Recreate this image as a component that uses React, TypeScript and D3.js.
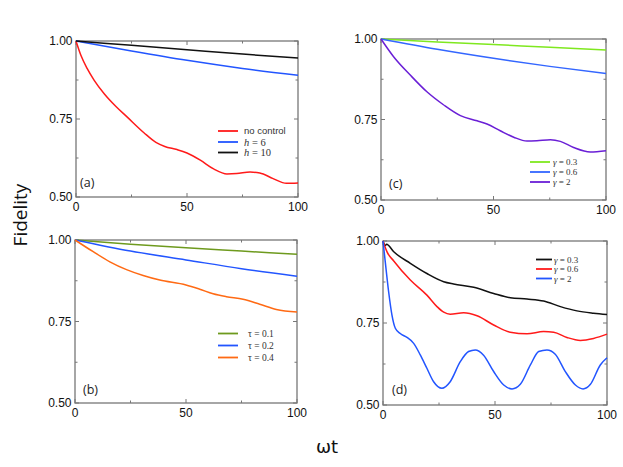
import React from "react";
import * as d3 from "d3";

type Pt = [number, number];

// Panel (a)
const aNoControl: Pt[] = [[0,1],[2.2,0.954],[5,0.912],[8.2,0.874],[12.7,0.831],[18,0.79],[23.1,0.756],[30.6,0.706],[36,0.675],[40,0.662],[45.5,0.652],[50,0.641],[56,0.618],[62,0.59],[68,0.574],[72.4,0.575],[78.4,0.58],[82.8,0.577],[88.8,0.559],[94.8,0.544],[100,0.545]];
const aH6: Pt[] = [[0,1],[25,0.968],[50,0.938],[75,0.912],[100,0.89]];
const aH10: Pt[] = [[0,1],[25,0.986],[50,0.972],[75,0.958],[100,0.9455]];

// Panel (b)
const bTau01: Pt[] = [[0,1],[25,0.987],[50,0.976],[75,0.966],[100,0.956]];
const bTau02: Pt[] = [[0,1],[25,0.966],[50,0.939],[75,0.912],[100,0.889]];
const bTau04: Pt[] = [[0,1],[8.2,0.964],[15.7,0.933],[23.2,0.909],[30.7,0.891],[38.2,0.877],[50,0.862],[56.2,0.849],[62.2,0.835],[68.2,0.826],[75.7,0.818],[83.2,0.803],[90.7,0.787],[100,0.779]];

// Panel (c)
const cG03: Pt[] = [[0,1],[25,0.991],[50,0.983],[75,0.974],[100,0.966]];
const cG06: Pt[] = [[0,1],[25,0.968],[50,0.94],[75,0.915],[100,0.893]];
const cG2: Pt[] = [[0,1],[5.6,0.945],[13,0.888],[20.4,0.836],[27.9,0.795],[35.3,0.762],[42.7,0.746],[47.1,0.736],[53,0.715],[59,0.695],[64.9,0.683],[69.3,0.684],[75.3,0.687],[79.7,0.682],[85.6,0.663],[93,0.649],[100,0.653]];

// Panel (d)
const dG03: Pt[] = [[0,1],[1,0.986],[1.6,0.99],[4.8,0.967],[12.2,0.932],[19.6,0.901],[27.1,0.876],[31.5,0.869],[40.5,0.859],[49.4,0.84],[56.8,0.827],[64.3,0.823],[71.7,0.817],[79.2,0.8],[86.6,0.787],[94,0.78],[100,0.776]];
const dG06: Pt[] = [[0,1],[0.6,0.988],[1.8,0.967],[4.8,0.939],[12.2,0.881],[19.6,0.835],[24.1,0.8],[27.1,0.783],[30,0.777],[36,0.781],[42,0.772],[49.4,0.744],[56.8,0.722],[64.3,0.717],[71.7,0.724],[76.2,0.722],[82.1,0.706],[88.1,0.697],[94,0.703],[100,0.716]];
const dG2: Pt[] = [[0,1],[1,0.937],[2.5,0.846],[4,0.774],[5.5,0.734],[7.7,0.718],[10.7,0.706],[13.7,0.688],[16.7,0.652],[19.6,0.612],[22.6,0.571],[26.3,0.551],[30,0.571],[34.5,0.632],[38.2,0.663],[41.2,0.668],[44.9,0.652],[49.4,0.602],[53.9,0.561],[57.6,0.549],[61.3,0.563],[65.8,0.622],[69.5,0.663],[73.2,0.668],[76.9,0.655],[81.4,0.602],[85.9,0.561],[89.3,0.549],[92.6,0.563],[97,0.622],[100,0.644]];

const xMajor = [0, 50, 100];
const xMinor = [25, 75];
const yMajor = [0.5, 0.75, 1.0];
const yMinor = [0.625, 0.875];

interface Series { data: Pt[]; color: string; label: string; italic?: boolean }
interface Panel {
  tag: string; x0: number; x1: number; yT: number; yB: number;
  series: Series[]; legX: number; legY: number[]; legLen: number; legGap: number;
  tagX: number; tagY: number; legFont: string; legSize: number;
}

const RED = "#ff1a1a", BLUE = "#2255ff", BLACK = "#111111";

const panels: Panel[] = [
  { tag: "(a)", x0: 76, x1: 298, yT: 41, yB: 197,
    series: [
      { data: aNoControl, color: RED, label: "no control" },
      { data: aH6, color: BLUE, label: "h = 6", italic: true },
      { data: aH10, color: BLACK, label: "h = 10", italic: true },
    ],
    legX: 218, legY: [131, 142, 152.5], legLen: 20, legGap: 6, tagX: 80, tagY: 187,
    legFont: "Liberation Sans, Arial, sans-serif", legSize: 9.5 },
  { tag: "(c)", x0: 381, x1: 606, yT: 39, yB: 200,
    series: [
      { data: cG03, color: "#7fe81f", label: "γ = 0.3" },
      { data: cG06, color: "#3366ff", label: "γ = 0.6" },
      { data: cG2, color: "#6a1fd6", label: "γ = 2" },
    ],
    legX: 530, legY: [162, 172, 182], legLen: 20, legGap: 3, tagX: 389, tagY: 188,
    legFont: "Liberation Serif, Times New Roman, serif", legSize: 9 },
  { tag: "(b)", x0: 75, x1: 297, yT: 240, yB: 403,
    series: [
      { data: bTau01, color: "#6e9a1e", label: "τ = 0.1" },
      { data: bTau02, color: BLUE, label: "τ = 0.2" },
      { data: bTau04, color: "#ff6a14", label: "τ = 0.4" },
    ],
    legX: 218, legY: [333.5, 345.5, 357.5], legLen: 20, legGap: 10, tagX: 83, tagY: 394,
    legFont: "Liberation Serif, Times New Roman, serif", legSize: 9.5 },
  { tag: "(d)", x0: 383, x1: 607, yT: 241, yB: 405,
    series: [
      { data: dG03, color: BLACK, label: "γ = 0.3" },
      { data: dG06, color: RED, label: "γ = 0.6" },
      { data: dG2, color: BLUE, label: "γ = 2" },
    ],
    legX: 536, legY: [259.5, 269, 278.5], legLen: 16, legGap: 2, tagX: 392, tagY: 394,
    legFont: "Liberation Serif, Times New Roman, serif", legSize: 9 },
];

const FRAME = "#777777";
const SANS = "Liberation Sans, Arial, sans-serif";

function PanelView({ p }: { p: Panel }) {
  const x = d3.scaleLinear().domain([0, 100]).range([p.x0, p.x1]);
  const y = d3.scaleLinear().domain([0.5, 1]).range([p.yB, p.yT]);
  const line = d3.line<Pt>().x(d => x(d[0])).y(d => y(d[1])).curve(d3.curveMonotoneX);
  const maj = 4, mn = 2.5;
  return (
    <g>
      <rect x={p.x0} y={p.yT} width={p.x1 - p.x0} height={p.yB - p.yT} fill="none" stroke={FRAME} strokeWidth={1.3} />
      {xMajor.concat(xMinor).map((v, i) => {
        const L = xMajor.includes(v) ? maj : mn;
        return (
          <g key={"x" + i}>
            <line x1={x(v)} x2={x(v)} y1={p.yB} y2={p.yB - L} stroke={FRAME} />
            <line x1={x(v)} x2={x(v)} y1={p.yT} y2={p.yT + L} stroke={FRAME} />
          </g>
        );
      })}
      {yMajor.concat(yMinor).map((v, i) => {
        const L = yMajor.includes(v) ? maj : mn;
        return (
          <g key={"y" + i}>
            <line x1={p.x0} x2={p.x0 + L} y1={y(v)} y2={y(v)} stroke={FRAME} />
            <line x1={p.x1} x2={p.x1 - L} y1={y(v)} y2={y(v)} stroke={FRAME} />
          </g>
        );
      })}
      {xMajor.map(v => (
        <text key={"xl" + v} x={x(v)} y={p.yB + 13.5} textAnchor="middle" fontFamily={SANS} fontSize={12} fill="#111">{v}</text>
      ))}
      {yMajor.map(v => (
        <text key={"yl" + v} x={p.x0 - 3.5} y={y(v) + 4} textAnchor="end" fontFamily={SANS} fontSize={12} fill="#111">{v.toFixed(2)}</text>
      ))}
      {p.series.map((s, i) => (
        <path key={"s" + i} d={line(s.data) || ""} fill="none" stroke={s.color} strokeWidth={1.5} />
      ))}
      {p.series.map((s, i) => (
        <g key={"l" + i}>
          <line x1={p.legX} x2={p.legX + p.legLen} y1={p.legY[i]} y2={p.legY[i]} stroke={s.color} strokeWidth={1.8} />
          {s.italic ? (
            <text x={p.legX + p.legLen + p.legGap} y={p.legY[i] + 3.5} fontFamily="Liberation Serif, Times New Roman, serif" fontSize={p.legSize + 1} fill="#333">
              <tspan fontStyle="italic">h</tspan>{s.label.slice(1)}
            </text>
          ) : (
            <text x={p.legX + p.legLen + p.legGap} y={p.legY[i] + 3.2} fontFamily={p.legFont} fontSize={p.legSize} fill="#333">
              {s.label.startsWith("γ") ? (<><tspan fontStyle="italic">γ</tspan>{s.label.slice(1)}</>) : s.label}
            </text>
          )}
        </g>
      ))}
      <text x={p.tagX} y={p.tagY} fontFamily="Open Sans, Liberation Sans, sans-serif" fontSize={12.5} fill="#222">{p.tag}</text>
    </g>
  );
}

export default function App() {
  return (
    <svg width={623} height={467} style={{ position: "absolute", left: 0, top: 0, background: "#fff" }}>
      <rect x={0} y={0} width={623} height={467} fill="#fff" />
      {panels.map(p => <PanelView key={p.tag} p={p} />)}
      <text transform="translate(27,215) rotate(-90)" textAnchor="middle" fontFamily="Open Sans, Liberation Sans, sans-serif" fontSize={19} fill="#111">Fidelity</text>
      <text x={327} y={453} textAnchor="middle" fontFamily="DejaVu Sans, sans-serif" fontSize={18} fill="#111">ωt</text>
    </svg>
  );
}
